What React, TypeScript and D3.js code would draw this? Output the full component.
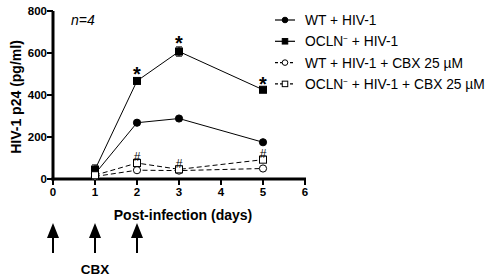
import React from "react";
import * as d3 from "d3";

const days = [1, 2, 3, 5];
const wtHiv = [25, 268, 288, 175];
const wtHivErr = [5, 8, 8, 8];
const oclnHiv = [45, 467, 607, 425];
const oclnHivErr = [22, 12, 22, 10];
const wtCbx = [12, 42, 40, 50];
const wtCbxErr = [4, 5, 4, 4];
const oclnCbx = [18, 76, 46, 92];
const oclnCbxErr = [4, 8, 6, 8];
const starDays = [2, 3, 5];
const hashDays = [2, 3, 5];
const yTicks = [0, 200, 400, 600, 800];
const xTicks = [0, 1, 2, 3, 4, 5, 6];
const arrowDays = [0, 1, 2];
const legendLabels = ["WT + HIV-1", "OCLN", "WT + HIV-1 + CBX 25 µM", "OCLN"];

const FONT = "Liberation Sans, Arial, sans-serif";

export default function App() {
  const x = d3.scaleLinear().domain([0, 6]).range([53, 305]);
  const y = d3.scaleLinear().domain([0, 800]).range([179, 11]);
  const line = d3
    .line<[number, number]>()
    .x((d) => x(d[0]))
    .y((d) => y(d[1]));

  const series = [
    { vals: wtHiv, err: wtHivErr, dash: undefined, shape: "circle", fill: "#000" },
    { vals: oclnHiv, err: oclnHivErr, dash: undefined, shape: "square", fill: "#000" },
    { vals: wtCbx, err: wtCbxErr, dash: "5,3", shape: "circle", fill: "#fff" },
    { vals: oclnCbx, err: oclnCbxErr, dash: "5,3", shape: "square", fill: "#fff" },
  ];

  const marker = (shape: string, fill: string, cx: number, cy: number, key: any, small = false) => {
    if (shape === "circle") {
      const r = small ? 2.8 : 3.6;
      return <circle key={key} cx={cx} cy={cy} r={r} fill={fill} stroke="#000" strokeWidth={1} />;
    }
    const s = small ? 5.5 : 7;
    return (
      <rect key={key} x={cx - s / 2} y={cy - s / 2} width={s} height={s} fill={fill} stroke="#000" strokeWidth={1} />
    );
  };

  return (
    <svg width={500} height={279} style={{ position: "absolute", left: 0, top: 0 }} fontFamily={FONT}>
      <rect width={500} height={279} fill="#fff" />
      {/* axes */}
      <line x1={x(0)} x2={x(0)} y1={y(800)} y2={y(0) + 1.5} stroke="#000" strokeWidth={3} />
      <line x1={x(0) - 1.5} x2={x(6) + 1} y1={y(0)} y2={y(0)} stroke="#000" strokeWidth={3} />
      {yTicks.map((t) => (
        <g key={"yt" + t}>
          <line x1={x(0) - 6} x2={x(0)} y1={y(t)} y2={y(t)} stroke="#000" strokeWidth={2} />
          <text x={x(0) - 6} y={y(t) + 4} textAnchor="end" fontSize={11.5} fontWeight="bold">
            {t}
          </text>
        </g>
      ))}
      {xTicks.map((t) => (
        <g key={"xt" + t}>
          <line x1={x(t)} x2={x(t)} y1={y(0)} y2={y(0) + 6} stroke="#000" strokeWidth={2} />
          <text x={x(t)} y={y(0) + 17} textAnchor="middle" fontSize={11.5} fontWeight="bold">
            {t}
          </text>
        </g>
      ))}
      <text
        transform={`translate(21,97) rotate(-90)`}
        textAnchor="middle"
        fontSize={14}
        fontWeight="bold"
      >
        HIV-1 p24 (pg/ml)
      </text>
      <text x={71} y={25} fontSize={14} fontStyle="italic">
        n=4
      </text>
      <text x={183} y={220} textAnchor="middle" fontSize={14} fontWeight="bold">
        Post-infection (days)
      </text>
      {/* series */}
      {series.map((s, i) => (
        <g key={"s" + i}>
          <path
            d={line(days.map((d, j) => [d, s.vals[j]] as [number, number])) || ""}
            fill="none"
            stroke="#000"
            strokeWidth={1}
            strokeDasharray={s.dash}
          />
          {days.map((d, j) => (
            <g key={"e" + j}>
              <line x1={x(d)} x2={x(d)} y1={y(s.vals[j] - s.err[j])} y2={y(s.vals[j] + s.err[j])} stroke="#000" strokeWidth={1} />
              <line x1={x(d) - 3} x2={x(d) + 3} y1={y(s.vals[j] + s.err[j])} y2={y(s.vals[j] + s.err[j])} stroke="#000" strokeWidth={1} />
              <line x1={x(d) - 3} x2={x(d) + 3} y1={y(s.vals[j] - s.err[j])} y2={y(s.vals[j] - s.err[j])} stroke="#000" strokeWidth={1} />
            </g>
          ))}
          {days.map((d, j) => marker(s.shape, s.fill, x(d), y(s.vals[j]), "m" + j))}
        </g>
      ))}
      {starDays.map((d) => {
        const j = days.indexOf(d);
        return (
          <text key={"st" + d} x={x(d)} y={y(oclnHiv[j] + oclnHivErr[j]) + 3} textAnchor="middle" fontSize={20} fontWeight="bold">
            *
          </text>
        );
      })}
      {hashDays.map((d) => {
        const j = days.indexOf(d);
        return (
          <text key={"h" + d} x={x(d)} y={y(oclnCbx[j] + oclnCbxErr[j])} textAnchor="middle" fontSize={12}>
            #
          </text>
        );
      })}
      {/* arrows */}
      {arrowDays.map((d) => (
        <g key={"a" + d}>
          <line x1={x(d)} x2={x(d)} y1={236} y2={253} stroke="#000" strokeWidth={2} />
          <path d={`M${x(d)},223 L${x(d) - 6},238 L${x(d) + 6},238 Z`} fill="#000" />
        </g>
      ))}
      <text x={x(1)} y={274} textAnchor="middle" fontSize={13.5} fontWeight="bold">
        CBX
      </text>
      {/* legend */}
      {series.map((s, i) => {
        const ly = 20 + i * 21.3;
        return (
          <g key={"l" + i}>
            <line x1={275} x2={295} y1={ly} y2={ly} stroke="#000" strokeWidth={1.2} strokeDasharray={s.dash ? "3,2" : undefined} />
            {marker(s.shape, s.fill, 285, ly, "lm", true)}
            <text x={305} y={ly + 5} fontSize={13.8}>
              {i % 2 === 1 ? (
                <>
                  {legendLabels[i]}
                  <tspan fontSize={8} dy={-5}>
                    −
                  </tspan>
                  <tspan dy={5}>{i === 1 ? " + HIV-1" : " + HIV-1 + CBX 25 µM"}</tspan>
                </>
              ) : (
                legendLabels[i]
              )}
            </text>
          </g>
        );
      })}
    </svg>
  );
}
